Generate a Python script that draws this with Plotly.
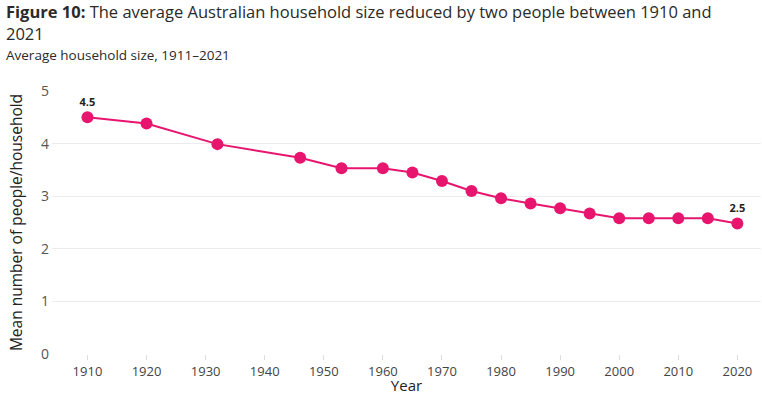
import plotly.graph_objects as go

years = [1910, 1920, 1932, 1946, 1953, 1960, 1965, 1970, 1975, 1980,
         1985, 1990, 1995, 2000, 2005, 2010, 2015, 2020]
household_size = [4.50, 4.38, 3.99, 3.73, 3.53, 3.53, 3.45, 3.29, 3.10, 2.96,
                  2.86, 2.77, 2.67, 2.58, 2.58, 2.58, 2.58, 2.48]
point_labels = ["<b>4.5</b>"] + [""] * 16 + ["<b>2.5</b>"]
x_ticks = list(range(1910, 2021, 10))
y_ticks = [0, 1, 2, 3, 4, 5]

PINK = "#E8156F"
FONT = "Open Sans"

fig = go.Figure()
fig.add_trace(go.Scatter(
    x=years, y=household_size, mode="lines+markers+text",
    line=dict(color=PINK, width=2),
    marker=dict(color=PINK, size=12),
    text=point_labels, textposition="top center",
    textfont=dict(family=FONT, size=11, color="#222"),
    hoverinfo="x+y", showlegend=False,
))

fig.update_layout(
    width=762, height=395,
    margin=dict(l=52, r=1, t=91, b=41),
    paper_bgcolor="white", plot_bgcolor="white",
    font=dict(family=FONT, color="#444"),
    xaxis=dict(
        range=[1904, 2024], tickvals=x_ticks, ticks="outside", ticklen=5,
        tickcolor="#ddd", tickfont=dict(size=13, color="#444"),
        showgrid=False, zeroline=False, showline=False,
        title=dict(text="Year", font=dict(size=15, color="#222"), standoff=2),
    ),
    yaxis=dict(
        range=[0, 5], tickvals=y_ticks, tickfont=dict(size=14, color="#555"),
        gridcolor="#ececec", zeroline=False, showline=False,
        ticklabelstandoff=2,
        title=dict(text="Mean number of people/household",
                   font=dict(size=15.5, color="#222"), standoff=14),
    ),
)

title_lines = [
    ("<b>Figure 10:</b> The average Australian household size reduced by two people between 1910 and", 16.5, 79.5),
    ("2021", 16.5, 58),
    ("Average household size, 1911–2021", 13.5, 36.5),
]
for txt, size, shift in title_lines:
    fig.add_annotation(
        xref="paper", yref="paper", x=-0.066, y=1.0, xanchor="left", yanchor="middle",
        yshift=shift, align="left", showarrow=False, text=txt, borderpad=0,
        font=dict(family=FONT, size=size, color="#2a2a2a"),
    )

fig.write_html("out.html", config={"displayModeBar": False},
               post_script="document.body.style.margin='0';")
